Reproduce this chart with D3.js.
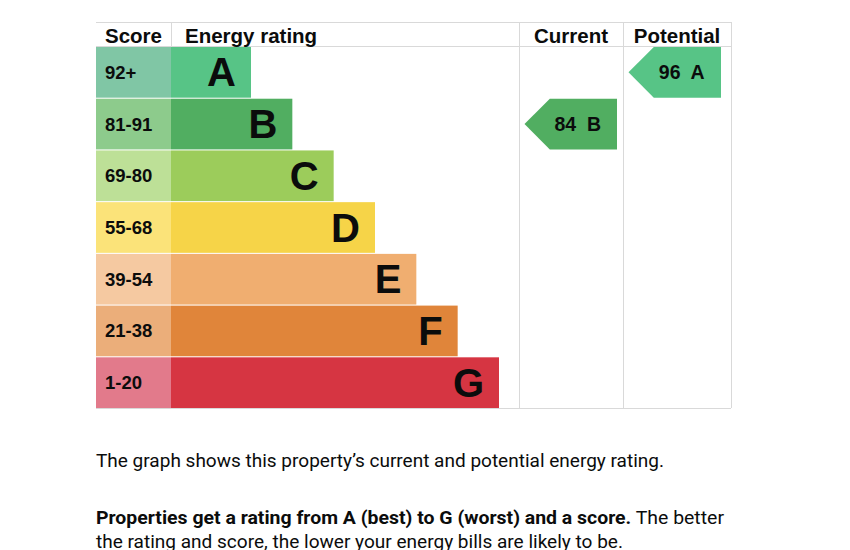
<!DOCTYPE html>
<html>
<head>
<meta charset="utf-8">
<script src="https://cdn.jsdelivr.net/npm/d3@7"></script>
<style>
  body { margin: 0; background: #fff; }
  svg { display: block; }
</style>
</head>
<body>
<svg id="chart"></svg>
<script>
// Energy rating bands, best to worst
const bands = ["A", "B", "C", "D", "E", "F", "G"];
const scoreRanges = ["92+", "81-91", "69-80", "55-68", "39-54", "21-38", "1-20"];
const bandMin = [92, 81, 69, 55, 39, 21, 1];
const barColors = ["#57c486", "#51ae61", "#9ccc5b", "#f6d448", "#f0ae70", "#e0853a", "#d63542"];
const scoreColors = ["#80c6a5", "#8dcb8c", "#bde097", "#fbe379", "#f5c9a1", "#ebae7a", "#e27a8b"];
const columns = ["Current", "Potential"];
const ratings = [84, 96];

const width = 850;
const height = 550;
const grid = { left: 96, top: 22, head: 47, bottom: 408, score: 171, current: 519, potential: 623, right: 731 };
const gridColor = "#d9d9d9";
const font = "'Liberation Sans', Arial, sans-serif";

const svg = d3.select("#chart").attr("width", width).attr("height", height);

const y = d3.scaleBand().domain(bands).range([grid.head, grid.bottom]).paddingInner(0.02);
const barEnd = d3.scaleLinear().domain([0, bands.length - 1]).range([251, 499]);
const col = d3.scaleOrdinal().domain(columns).range([[grid.current, grid.potential], [grid.potential, grid.right]]);

const bandOf = score => bands[bandMin.findIndex(m => score >= m)];

// grid lines
const g = svg.append("g").attr("stroke", gridColor).attr("stroke-width", 1);
g.append("line").attr("x1", grid.left).attr("x2", grid.right).attr("y1", grid.top + 0.5).attr("y2", grid.top + 0.5);
g.append("line").attr("x1", grid.left).attr("x2", grid.right).attr("y1", grid.head - 0.5).attr("y2", grid.head - 0.5);
g.append("line").attr("x1", grid.left).attr("x2", grid.right).attr("y1", grid.bottom + 0.5).attr("y2", grid.bottom + 0.5);
[grid.score, grid.current, grid.potential, grid.right].forEach((x, i) => {
  g.append("line")
    .attr("x1", x + 0.5).attr("x2", x + 0.5)
    .attr("y1", grid.top).attr("y2", i === 0 ? grid.head : grid.bottom);
});

// headers
const head = svg.append("g")
  .style("font-family", font).style("font-weight", "bold").style("font-size", "20.5px").attr("fill", "#0b0c0c");
head.append("text").attr("x", 105).attr("y", 43).text("Score");
head.append("text").attr("x", 185).attr("y", 43).text("Energy rating");
columns.forEach(c => {
  const [x0, x1] = col(c);
  head.append("text").attr("x", (x0 + x1) / 2).attr("y", 43).attr("text-anchor", "middle").text(c);
});

// rows
const rows = svg.selectAll(".row").data(bands).enter().append("g").attr("class", "row");

rows.append("rect")
  .attr("x", grid.left).attr("y", d => y(d))
  .attr("width", grid.score - grid.left).attr("height", y.bandwidth())
  .attr("fill", (d, i) => scoreColors[i]);

rows.append("rect")
  .attr("x", grid.score).attr("y", d => y(d))
  .attr("width", (d, i) => barEnd(i) - grid.score).attr("height", y.bandwidth())
  .attr("fill", (d, i) => barColors[i]);

rows.append("text")
  .attr("x", 105).attr("y", d => y(d) + y.bandwidth() / 2 + 6.5)
  .style("font-family", font).style("font-weight", "bold").style("font-size", "18.5px")
  .attr("fill", "#0b0c0c")
  .text((d, i) => scoreRanges[i]);

rows.append("text")
  .attr("x", (d, i) => barEnd(i) - 15).attr("y", d => y(d) + y.bandwidth() / 2 + 14)
  .attr("text-anchor", "end")
  .style("font-family", font).style("font-weight", "bold").style("font-size", "40px")
  .attr("fill", "#0b0c0c")
  .text(d => d);

// current / potential arrows
columns.forEach((c, i) => {
  const band = bandOf(ratings[i]);
  const idx = bands.indexOf(band);
  const [x0] = col(c);
  const top = y(band), h = y.bandwidth();
  const left = x0 + 5.5, right = left + 92.5;
  const path = d3.path();
  path.moveTo(left, top + h / 2);
  path.lineTo(left + h / 2, top);
  path.lineTo(right, top);
  path.lineTo(right, top + h);
  path.lineTo(left + h / 2, top + h);
  path.closePath();
  svg.append("path").attr("d", path.toString()).attr("fill", barColors[idx]);
  svg.append("text")
    .attr("x", (left + right) / 2 + 7).attr("y", top + h / 2 + 7)
    .attr("text-anchor", "middle")
    .style("font-family", font).style("font-weight", "bold").style("font-size", "19.5px")
    .attr("fill", "#0b0c0c")
    .attr("xml:space", "preserve")
    .text(`${ratings[i]}  ${band}`);
});

// explanation text
const txt = svg.append("g").style("font-family", "Roboto, 'Liberation Sans', sans-serif")
  .style("font-size", "18px").attr("fill", "#0b0c0c");
txt.append("text").attr("x", 96).attr("y", 467).attr("textLength", 568).attr("lengthAdjust", "spacingAndGlyphs")
  .text("The graph shows this property’s current and potential energy rating.");
const l2 = txt.append("text").attr("x", 96).attr("y", 524).attr("textLength", 628).attr("lengthAdjust", "spacingAndGlyphs");
l2.append("tspan").style("font-weight", "bold").text("Properties get a rating from A (best) to G (worst) and a score.");
l2.append("tspan").text(" The better");
txt.append("text").attr("x", 96).attr("y", 548).attr("textLength", 527).attr("lengthAdjust", "spacingAndGlyphs")
  .text("the rating and score, the lower your energy bills are likely to be.");
</script>
</body>
</html>
